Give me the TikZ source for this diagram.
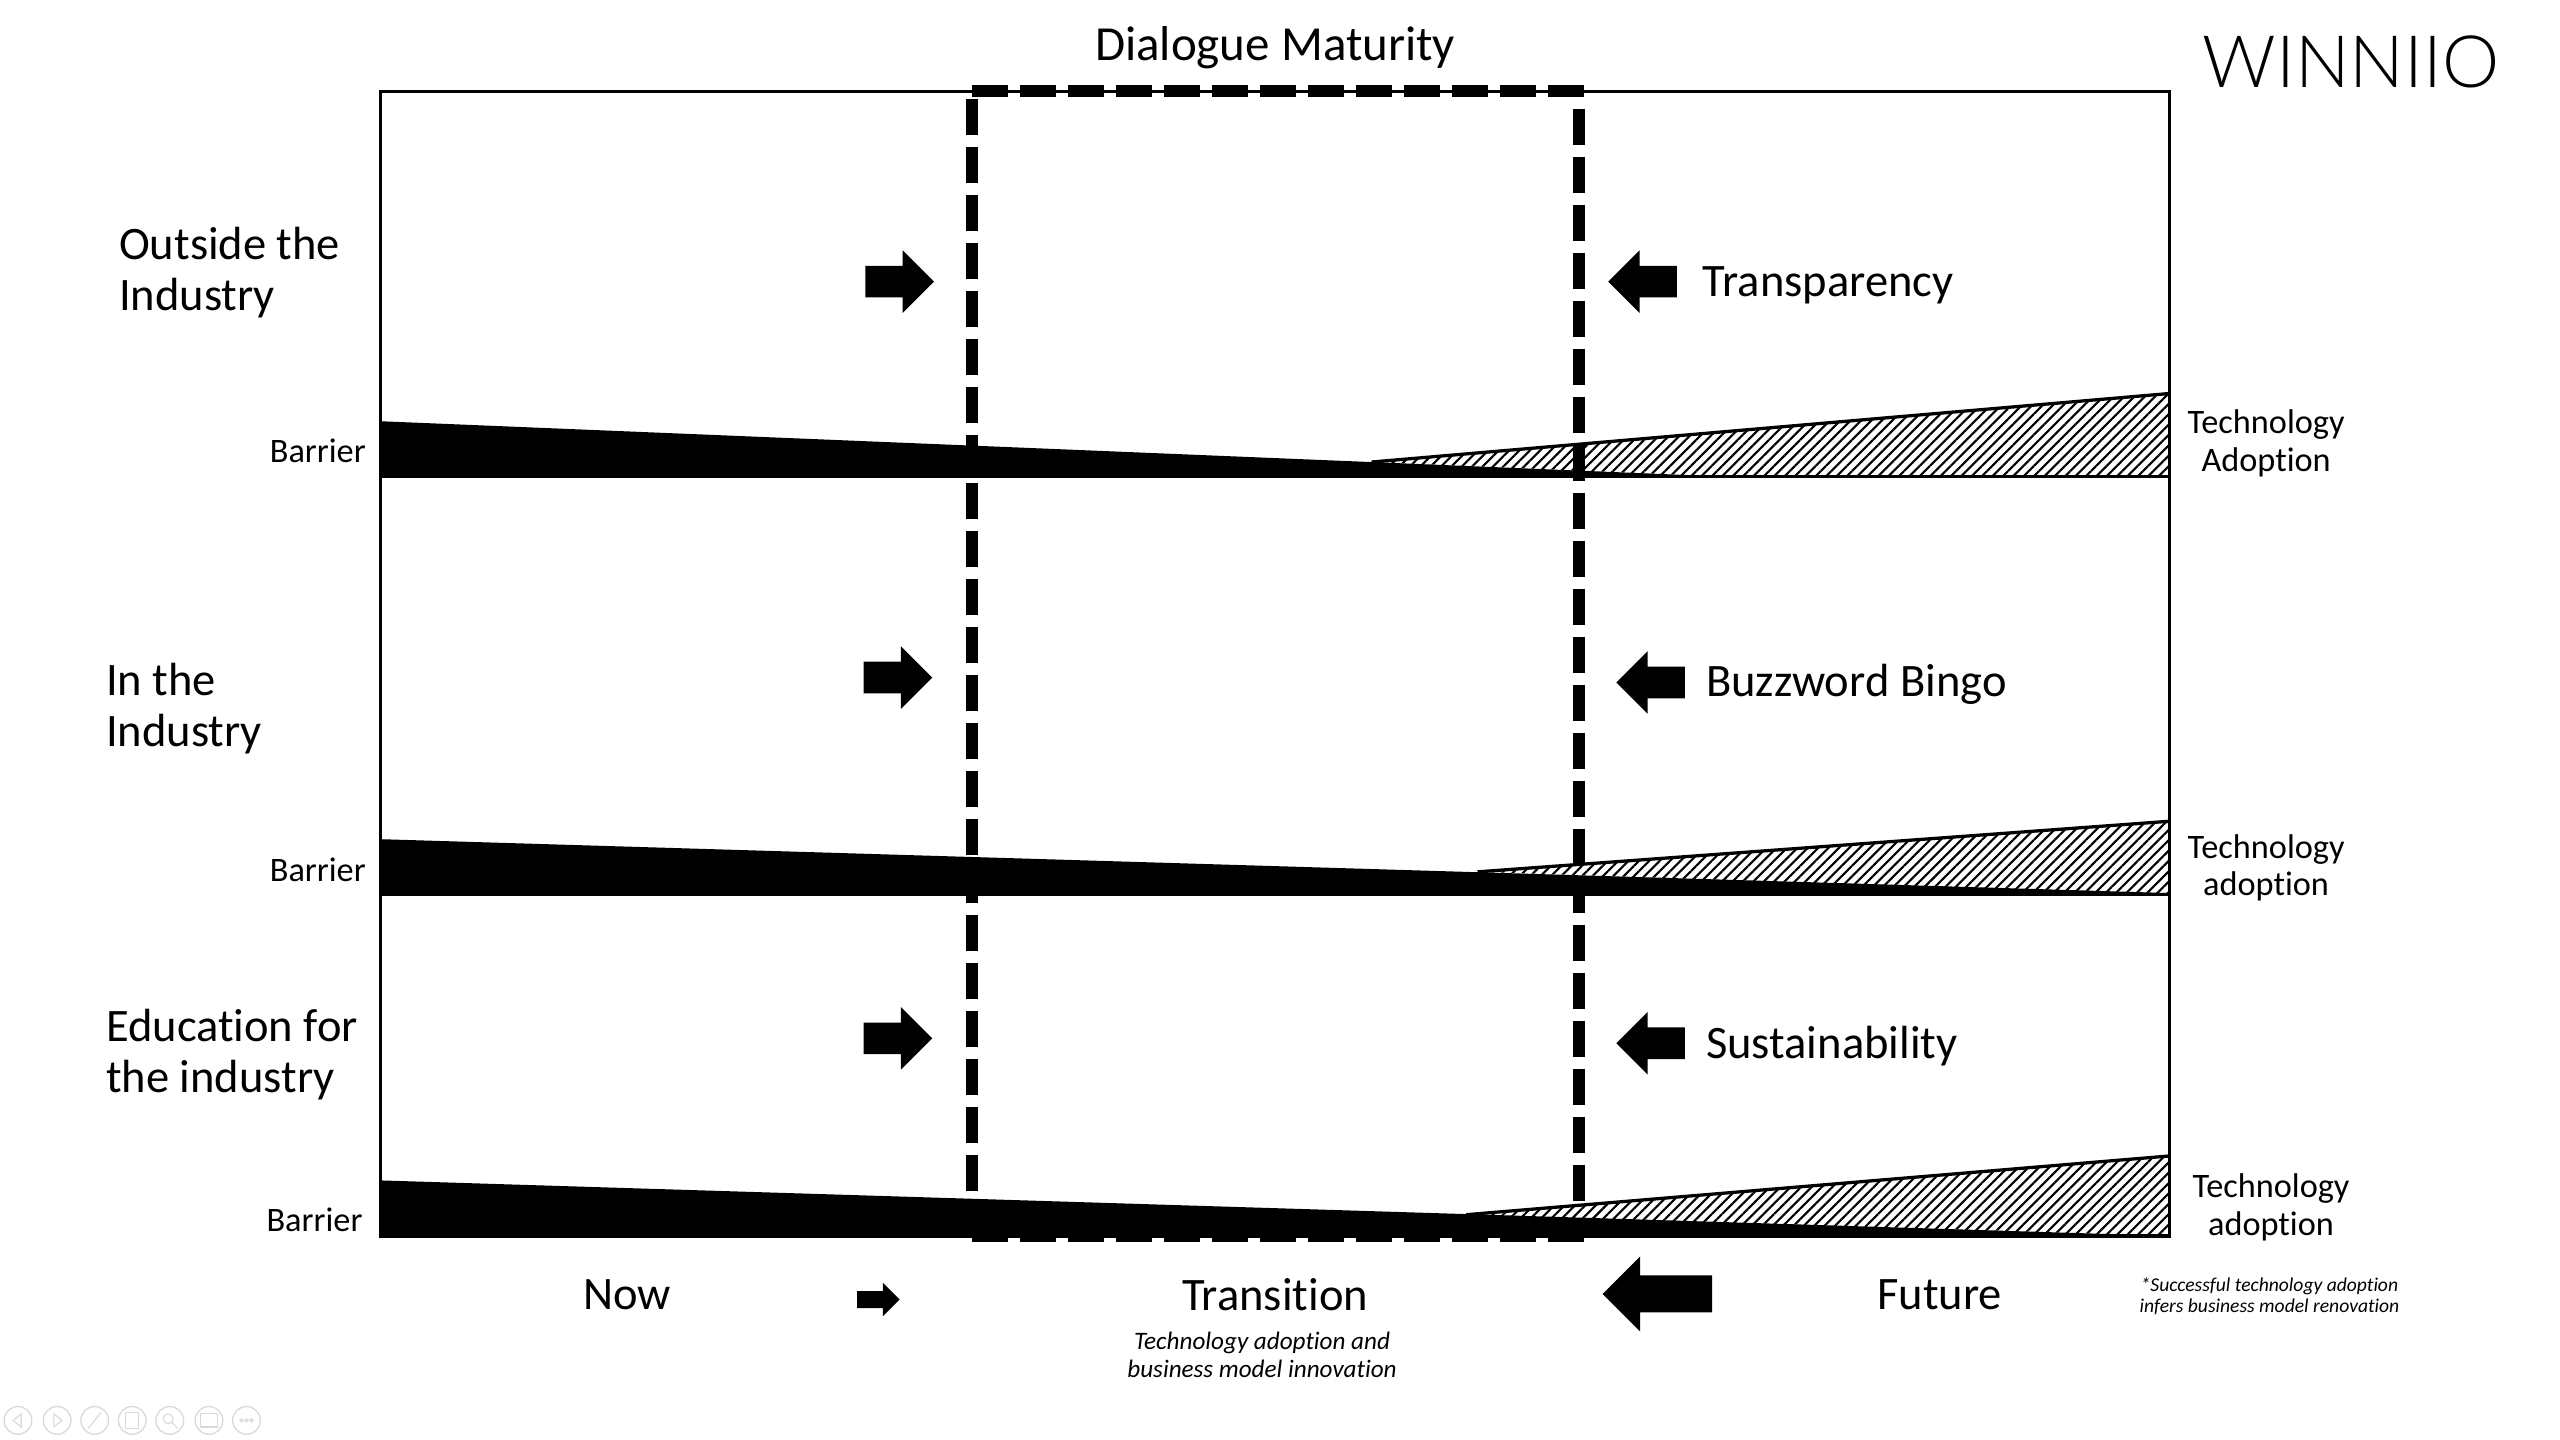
\documentclass[tikz,border=0pt]{standalone}
\usepackage{fontspec}
\setmainfont[Ligatures=NoCommon]{Carlito}
\newfontfamily\logofont{Lato Light}
\usetikzlibrary{shapes.arrows,patterns.meta}

\begin{document}
\begin{tikzpicture}
        [x=1pt,y=-1pt,
        every node/.style={inner sep=0pt,outer sep=0pt,text=black},
        big/.style={font=\fontsize{28.5}{31}\selectfont,align=left},
        small/.style={font=\fontsize{21}{23}\selectfont,align=center},
        note/.style={font=\itshape\fontsize{15.4}{17}\selectfont,align=center},
        footnote/.style={font=\itshape\fontsize{12}{13}\selectfont,align=center},
        wedge/.style={fill=black,draw=none},
        hatched/.style={pattern={Lines[angle=45,distance=4.5pt,line width=1.3pt]}},
        frame/.style={draw=black,line width=2pt},
        bold dash/.style={draw=black,line width=7.4pt,dash pattern=on 22pt off 7.4pt},
        blockarrow/.style={single arrow,fill=black,draw=none,minimum height=42pt,
                text height=19pt,text depth=0pt,single arrow head extend=9.5pt,
                single arrow head indent=0pt,anchor=tail},
        toleft/.style={shape border rotate=180},
        toolbtn/.style={circle,draw=black!15,line width=0.8pt,minimum size=17pt}]
        \useasboundingbox (0,0) rectangle (1568,882);

        % frame
        \draw[frame] (233,56) rectangle (1329,757);

        % outside the industry
        \fill[hatched] (840,283) -- (1329,241) -- (1329,292) -- (1058,292) -- cycle;
        \draw[line width=2pt] (840,283) -- (1329,241);
        \fill[wedge] (233,258) -- (1058,292) -- (233,292) -- cycle;
        \draw[line width=2pt] (233,292) -- (1329,292);
        % in the industry
        \fill[hatched] (905,534) -- (1329,503) -- (1329,548) -- cycle;
        \draw[line width=2pt] (905,534) -- (1329,503);
        \fill[wedge] (233,514) -- (1329,547) -- (1329,548) -- (233,548) -- cycle;
        \draw[line width=2pt] (233,548) -- (1329,548);
        % education
        \fill[hatched] (898,744) -- (1329,708) -- (1329,757) -- cycle;
        \draw[line width=2pt] (898,744) -- (1329,708);
        \fill[wedge] (233,723) -- (1329,757) -- (233,757) -- cycle;

        % dialogue box
        \draw[bold dash] (595.5,55.7) -- (972,55.7);
        \draw[bold dash] (595.3,60.6) -- (595.3,730);
        \draw[bold dash] (967,66.6) -- (967,736);
        \draw[bold dash] (595.5,757) -- (972,757);

        % arrows
        \node[blockarrow] (arrow1r) at (530,172.5) {};
        \node[blockarrow,toleft] (arrow1l) at (1027,172.5) {};
        \node[blockarrow] (arrow2r) at (529,415) {};
        \node[blockarrow,toleft] (arrow2l) at (1032,418) {};
        \node[blockarrow] (arrow3r) at (529,636) {};
        \node[blockarrow,toleft] (arrow3l) at (1032,639) {};
        \node[blockarrow,minimum height=26pt,text height=10pt,
                single arrow head extend=5pt] (arrownow) at (525,796) {};
        \node[blockarrow,toleft,minimum height=67pt,text height=22.3pt,
                single arrow head extend=11.6pt] (arrowfuture) at (1048.6,792.5) {};

        % texts
        \node[big,font=\fontsize{30}{31}\selectfont] (title) at (781,29) {Dialogue Maturity};
        \node[font=\logofont\fontsize{44.3}{50}\selectfont] (logo) at (1440,38) {WINNIIO};
        \node[big,anchor=west] (outside) at (73,167) {Outside the\\Industry};
        \node[big,anchor=west] (inside) at (65,434) {In the\\Industry};
        \node[big,anchor=west] (education) at (65,646) {Education for\\the industry};
        \node[big,anchor=west] (transparency) at (1043,175) {Transparency};
        \node[big,anchor=west] (buzzword) at (1045,419) {Buzzword Bingo};
        \node[big,anchor=west] (sustainability) at (1045,641) {Sustainability};
        \node[small,anchor=east] (barrier1) at (224,276) {Barrier};
        \node[small,anchor=east] (barrier2) at (224,533) {Barrier};
        \node[small,anchor=east] (barrier3) at (222,747) {Barrier};
        \node[small] (tech1) at (1388,271.5) {Technology\\Adoption};
        \node[small] (tech2) at (1388,531.5) {Technology\\adoption};
        \node[small] (tech3) at (1391,739.5) {Technology\\adoption};
        \node[big] (now) at (384,793) {Now};
        \node[big] (transition) at (781,793) {Transition};
        \node[big] (future) at (1188,793) {Future};
        \node[note] (transnote) at (773,830) {Technology adoption and\\business model innovation};
        \node[footnote] (futurenote) at (1390,794) {*Successful technology adoption\\infers business model renovation};

        % toolbar
        \foreach \x/\name in {11/prev,35/next,58/pen,81/grid,104/zoom,128/screen,151/more}
            \node[toolbtn] (\name) at (\x,870) {};
        \draw[black!15,line width=0.7pt] (13,866) -- (8,870) -- (13,874) -- cycle;
        \draw[black!15,line width=0.7pt] (33,866) -- (38,870) -- (33,874) -- cycle;
        \draw[black!15,line width=0.7pt] (54,875) -- (62,865);
        \draw[black!15,line width=0.7pt] (77,865) rectangle (85,875);
        \draw[black!15,line width=0.7pt] (103,869) circle (3pt) (105,871) -- (109,875);
        \draw[black!15,line width=0.7pt] (123,866) rectangle (133,874);
        \foreach \x in {148,151,154}
            \draw[black!15,line width=0.7pt] (\x,870) circle (1pt);
\end{tikzpicture}
\end{document}
